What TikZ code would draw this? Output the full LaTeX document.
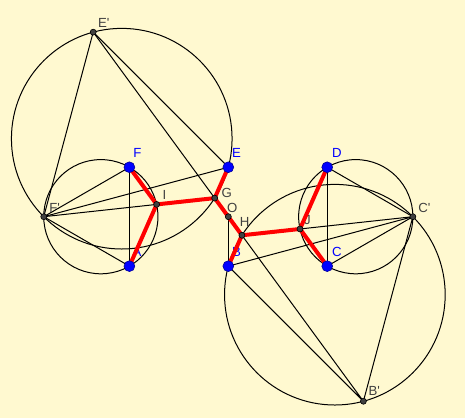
\documentclass[tikz,border=0pt]{standalone}
\usepackage{fontspec}
\setmainfont{Liberation Sans}
\definecolor{bgyellow}{RGB}{255,249,208}
\definecolor{ptgray}{RGB}{64,64,64}
\definecolor{ptblue}{RGB}{0,0,255}
\definecolor{segred}{RGB}{255,0,0}

\tikzset{every picture/.style={line width=0.5pt}}
\tikzset{
  bluept/.style={circle,fill=ptblue,draw=ptblue!60!black,line width=0.3pt,inner sep=0pt,minimum size=5.4pt},
  graypt/.style={circle,fill=ptgray,draw=black,line width=0.3pt,inner sep=0pt,minimum size=3pt},
  bluelbl/.style={text=ptblue,inner sep=0pt,anchor=base west,font=\fontsize{6.6}{8}\selectfont},
  graylbl/.style={text=ptgray,inner sep=0pt,anchor=base west,font=\fontsize{6.6}{8}\selectfont},
  steiner/.style={segred,line width=2pt,line cap=round,line join=round},
}

\begin{document}
\begin{tikzpicture}[x=1.738cm,y=1.738cm]
		\fill[bgyellow] (-2.3084,-2.0354) rectangle (2.3933,2.1911);
		\useasboundingbox (-2.3084,-2.0354) rectangle (2.3933,2.1911);
		\coordinate (O) at (0,0);
		\coordinate (F) at (-1,0.5);
		\coordinate (E) at (0,0.5);
		\coordinate (D) at (1,0.5);
		\coordinate (A) at (-1,-0.5);
		\coordinate (B) at (0,-0.5);
		\coordinate (C) at (1,-0.5);
		\coordinate (Fp) at (-1.8660,0);
		\coordinate (Cp) at (1.8660,0);
		\coordinate (Ep) at (-1.3660,1.8660);
		\coordinate (Bp) at (1.3660,-1.8660);
		\coordinate (G) at (-0.1376,0.1880);
		\coordinate (H) at (0.1376,-0.1880);
		\coordinate (I) at (-0.7248,0.1241);
		\coordinate (J) at (0.7248,-0.1241);
		\coordinate (cL) at (-1.2887,0);
		\coordinate (cR) at (1.2887,0);
		\coordinate (cU) at (-1.0774,0.7887);
		\coordinate (cD) at (1.0774,-0.7887);
		\draw (cL) circle (0.5774);
		\draw (cR) circle (0.5774);
		\draw (cU) circle (1.1154);
		\draw (cD) circle (1.1154);
		\draw (Fp) -- (Ep) -- (E);
		\draw (Ep) -- (G);
		\draw (H) -- (Bp) -- (B);
		\draw (Bp) -- (Cp);
		\draw (Fp) -- (F);
		\draw (Fp) -- (E);
		\draw (Fp) -- (I);
		\draw (Fp) -- (A);
		\draw (Cp) -- (D);
		\draw (Cp) -- (J);
		\draw (Cp) -- (B);
		\draw (Cp) -- (C);
		\draw (F) -- (A);
		\draw (O) -- (B);
		\draw (D) -- (C);
		\node[bluelbl] (lF) at ([shift={(1.7pt,5pt)}]F) {F};
		\node[bluelbl] (lE) at ([shift={(1.7pt,5pt)}]E) {E};
		\node[bluelbl] (lD) at ([shift={(2.2pt,5pt)}]D) {D};
		\node[bluelbl] (lA) at ([shift={(1.4pt,4.7pt)}]A) {A};
		\node[bluelbl] (lB) at ([shift={(1.7pt,4.7pt)}]B) {B};
		\node[bluelbl] (lC) at ([shift={(2.2pt,4.7pt)}]C) {C};
		\node[graylbl] (lI) at ([shift={(2.7pt,2.7pt)}]I) {I};
		\node[graylbl] (lG) at ([shift={(3.2pt,0.5pt)}]G) {G};
		\node[graylbl] (lO) at ([shift={(-0.8pt,2.2pt)}]O) {O};
		\node[graylbl] (lH) at ([shift={(-1.3pt,4.2pt)}]H) {H};
		\node[graylbl] (lJ) at ([shift={(1.8pt,2.3pt)}]J) {J};
		\node[graylbl] (lCp) at ([shift={(2.5pt,2.2pt)}]Cp) {C\textquotesingle};
		\node[graylbl] (lFp) at ([shift={(2.5pt,2.2pt)}]Fp) {F\textquotesingle};
		\node[graylbl] (lEp) at ([shift={(2.2pt,2.5pt)}]Ep) {E\textquotesingle};
		\node[graylbl] (lBp) at ([shift={(2.3pt,3pt)}]Bp) {B\textquotesingle};
		\draw[steiner] (F) -- (I) -- (A);
		\draw[steiner] (I) -- (G) -- (E);
		\draw[steiner] (G) -- (H) -- (B);
		\draw[steiner] (H) -- (J) -- (D);
		\draw[steiner] (J) -- (C);
		\foreach \p in {F,E,D,A,B,C}
			\node[bluept] (dot\p) at (\p) {};
		\foreach \p in {Fp,Cp,Ep,Bp,G,H,I,J,O}
			\node[graypt] (dot\p) at (\p) {};
	\end{tikzpicture}
\end{document}
